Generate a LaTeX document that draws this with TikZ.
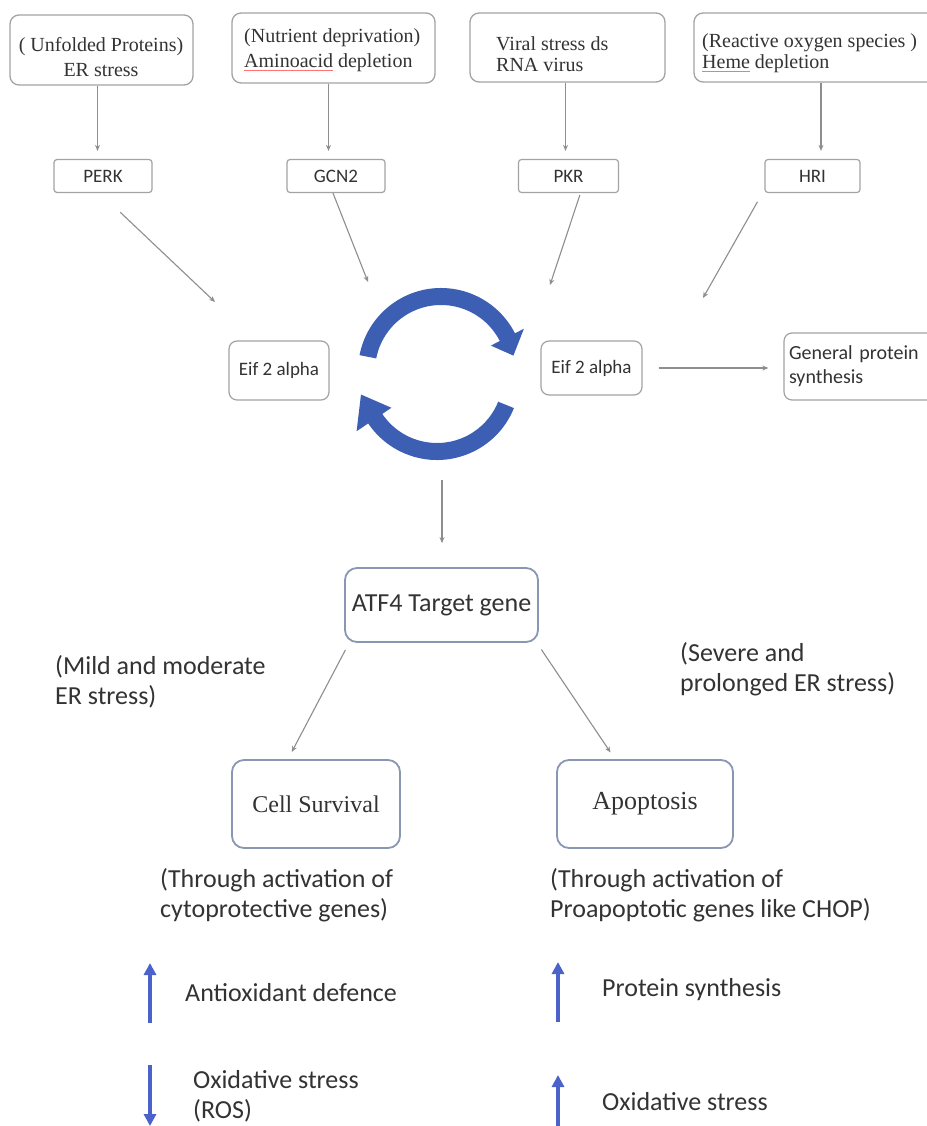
\documentclass[tikz,border=0pt]{standalone}
\usepackage{fontspec}
\setmainfont{Liberation Serif}
\newfontfamily\carl{Carlito}
\usetikzlibrary{arrows.meta,calc}
\definecolor{ringblue}{HTML}{3D5FB3}
\definecolor{arrblue}{HTML}{4A62C9}
\definecolor{lgray}{HTML}{8E8E8E}
\definecolor{bgray}{HTML}{A3A3A3}
\definecolor{bluegray}{HTML}{8996B4}
\definecolor{txt}{HTML}{333333}
\newsavebox{\wavebox}
\newcommand{\redwave}[1]{\sbox{\wavebox}{#1}\rlap{\textcolor{red!55}{\rule[-4pt]{\wd\wavebox}{1pt}}}\usebox{\wavebox}}
\begin{document}
\begin{tikzpicture}[x=1pt,y=-1pt,
 topbox/.style={draw=bgray, line width=1.3pt, rounded corners=9pt, inner sep=0pt},
 toptext/.style={font=\fontsize{20}{25}\selectfont, inner sep=0pt, text=txt},
 kbox/.style={draw=bgray, line width=1.2pt, rounded corners=3pt, minimum height=33pt, font=\carl\fontsize{19}{22}\selectfont, inner sep=0pt, text=txt},
 eifbox/.style={draw=bgray, line width=1.2pt, rounded corners=8pt, font=\carl\fontsize{19}{24}\selectfont, inner sep=0pt, text=txt},
 bigbox/.style={draw=bluegray, line width=1.8pt, rounded corners=12pt, inner sep=0pt, text=txt},
 garr/.style={draw=lgray, line width=1.1pt, -{Stealth[length=6pt,width=5pt]}},
 barr/.style={draw=arrblue, line width=3.5pt, -{Triangle[length=12pt,width=12pt]}},
 lab/.style={font=\carl\fontsize{26}{30}\selectfont, align=left, anchor=west, inner sep=0pt, text=txt},
]
\useasboundingbox[fill=white] (0,0) rectangle (926,1126);

% top stress boxes
\node[topbox, minimum width=183pt, minimum height=70pt] (s1) at (101.5,50) {};
\node[toptext, align=center] (s1t) at (101,57) {( Unfolded Proteins)\\ER stress};
\node[topbox, minimum width=203pt, minimum height=70pt] (s2) at (333.5,48) {};
\node[toptext, align=left, anchor=west] (s2t) at (244,50) {(Nutrient deprivation)\\\redwave{Aminoacid} depletion};
\node[topbox, minimum width=195pt, minimum height=69pt] (s3) at (567.5,47.5) {};
\node[toptext, align=left, anchor=west, font=\fontsize{20}{21}\selectfont] (s3t) at (496,54) {Viral stress ds\\RNA virus};
\node[topbox, minimum width=256pt, minimum height=69pt] (s4) at (822,47.5) {};
\node[toptext, align=left, anchor=west, font=\fontsize{20}{21}\selectfont] (s4t) at (702,53) {(Reactive oxygen species )\\\redwave{Heme} depletion};

% kinases
\node[kbox, minimum width=98pt] (perk) at (103,176) {PERK};
\node[kbox, minimum width=98pt] (gcn2) at (336,176) {GCN2};
\node[kbox, minimum width=100pt] (pkr) at (568.5,176) {PKR};
\node[kbox, minimum width=95pt] (hri) at (812.5,176) {HRI};

\draw[garr, shorten >=8pt] ([xshift=-4pt]s1.south) -- ([xshift=-4pt]s1.south |- perk.north);
\draw[garr, shorten >=8pt] ([xshift=-5pt]s2.south) -- ([xshift=-5pt]s2.south |- gcn2.north);
\draw[garr, shorten >=8pt] ([xshift=-2pt]s3.south) -- ([xshift=-2pt]s3.south |- pkr.north);
\draw[garr, shorten >=8pt] ([xshift=-1pt]s4.south) -- ([xshift=-1pt]s4.south |- hri.north);

% eIF2 alpha boxes
\node[eifbox, minimum width=100pt, minimum height=59pt] (eifL) at (279,370.5) {Eif 2 alpha};
\node[eifbox, minimum width=101pt, minimum height=54pt] (eifR) at (591.5,368) {Eif 2 alpha};
\node[eifbox, minimum width=156pt, minimum height=67pt, text width=146pt, inner xsep=5pt, align=left, font=\carl\fontsize{20}{24}\selectfont] (gen) at (862,366.5) {General protein\\synthesis};

\coordinate (t1) at (215,302);
\coordinate (t2) at (368,282);
\coordinate (t3) at (550,285);
\coordinate (t4) at (703,298);
\draw[garr, shorten <=28pt] ([xshift=-3pt]perk.south) -- (t1);
\draw[garr] ([xshift=-3pt]gcn2.south) -- (t2);
\draw[garr, shorten <=2pt] ([xshift=12pt]pkr.south) -- (t3);
\draw[garr, shorten <=10pt] ([xshift=-2pt]hri.south west) -- (t4);

\draw[garr, shorten <=16pt, shorten >=15pt] (eifR.east) -- (eifR.east -| gen.west);

% cycle
\begin{scope}[shift={(441,371)}, yscale=-1]
 \fill[ringblue] (169:83) arc[start angle=169,end angle=27,radius=83] -- (27:93) -- (12:74) -- (27:56) -- (27:66) arc[start angle=27,end angle=169,radius=66] -- cycle;
\end{scope}
\begin{scope}[shift={(437,377)}, yscale=-1]
 \fill[ringblue] (-22:83) arc[start angle=-22,end angle=-146,radius=83] -- (-146:97) -- (-167:78) -- (-146:55) -- (-146:66) arc[start angle=-146,end angle=-22,radius=66] -- cycle;
\end{scope}
\coordinate (cyc) at (442,460);

% ATF4
\node[bigbox, minimum width=193pt, minimum height=74pt, font=\carl\fontsize{26}{30}\selectfont] (atf) at (441.5,605) {ATF4 Target gene};
\draw[garr, shorten <=20pt, shorten >=24pt] (cyc) -- (cyc |- atf.north);

\node[lab] (mild) at (55,682) {(Mild and moderate\\ER stress)};
\node[lab] (severe) at (680,669) {(Severe and\\prolonged ER stress)};

\node[bigbox, minimum width=168pt, minimum height=88pt, font=\fontsize{24}{28}\selectfont] (cell) at (316,804) {Cell Survival};
\node[bigbox, minimum width=176pt, minimum height=88pt, font=\fontsize{26}{30}\selectfont] (apo) at (645,804) {\raisebox{3pt}{Apoptosis}};

\draw[garr, shorten <=8pt, shorten >=8pt] ([xshift=5pt]atf.south west) -- ([xshift=-28pt]cell.north);
\draw[garr, shorten <=8pt, shorten >=8pt] ([xshift=-2pt]atf.south east) -- ([xshift=-30pt]apo.north);

\node[lab] (celltxt) at (160,895) {(Through activation of\\cytoprotective genes)};
\node[lab] (apotxt) at (550,895) {(Through activation of\\Proapoptotic genes like CHOP)};

% effect arrows
\coordinate (a1s) at (150,1023); \coordinate (a1e) at (150,963);
\coordinate (a2s) at (150,1065); \coordinate (a2e) at (150,1126);
\coordinate (a3s) at (558,1022); \coordinate (a3e) at (558,962);
\coordinate (a4s) at (558,1128); \coordinate (a4e) at (558,1075);
\draw[barr] (a1s) -- (a1e);
\draw[barr] (a2s) -- (a2e);
\draw[barr] (a3s) -- (a3e);
\draw[barr] (a4s) -- (a4e);

\node[lab] (antiox) at (185,993) {Antioxidant defence};
\node[lab] (ros) at (193,1096) {Oxidative stress\\(ROS)};
\node[lab] (protsyn) at (602,990) {Protein synthesis};
\node[lab] (oxs) at (602,1102) {Oxidative stress};
\end{tikzpicture}
\end{document}
